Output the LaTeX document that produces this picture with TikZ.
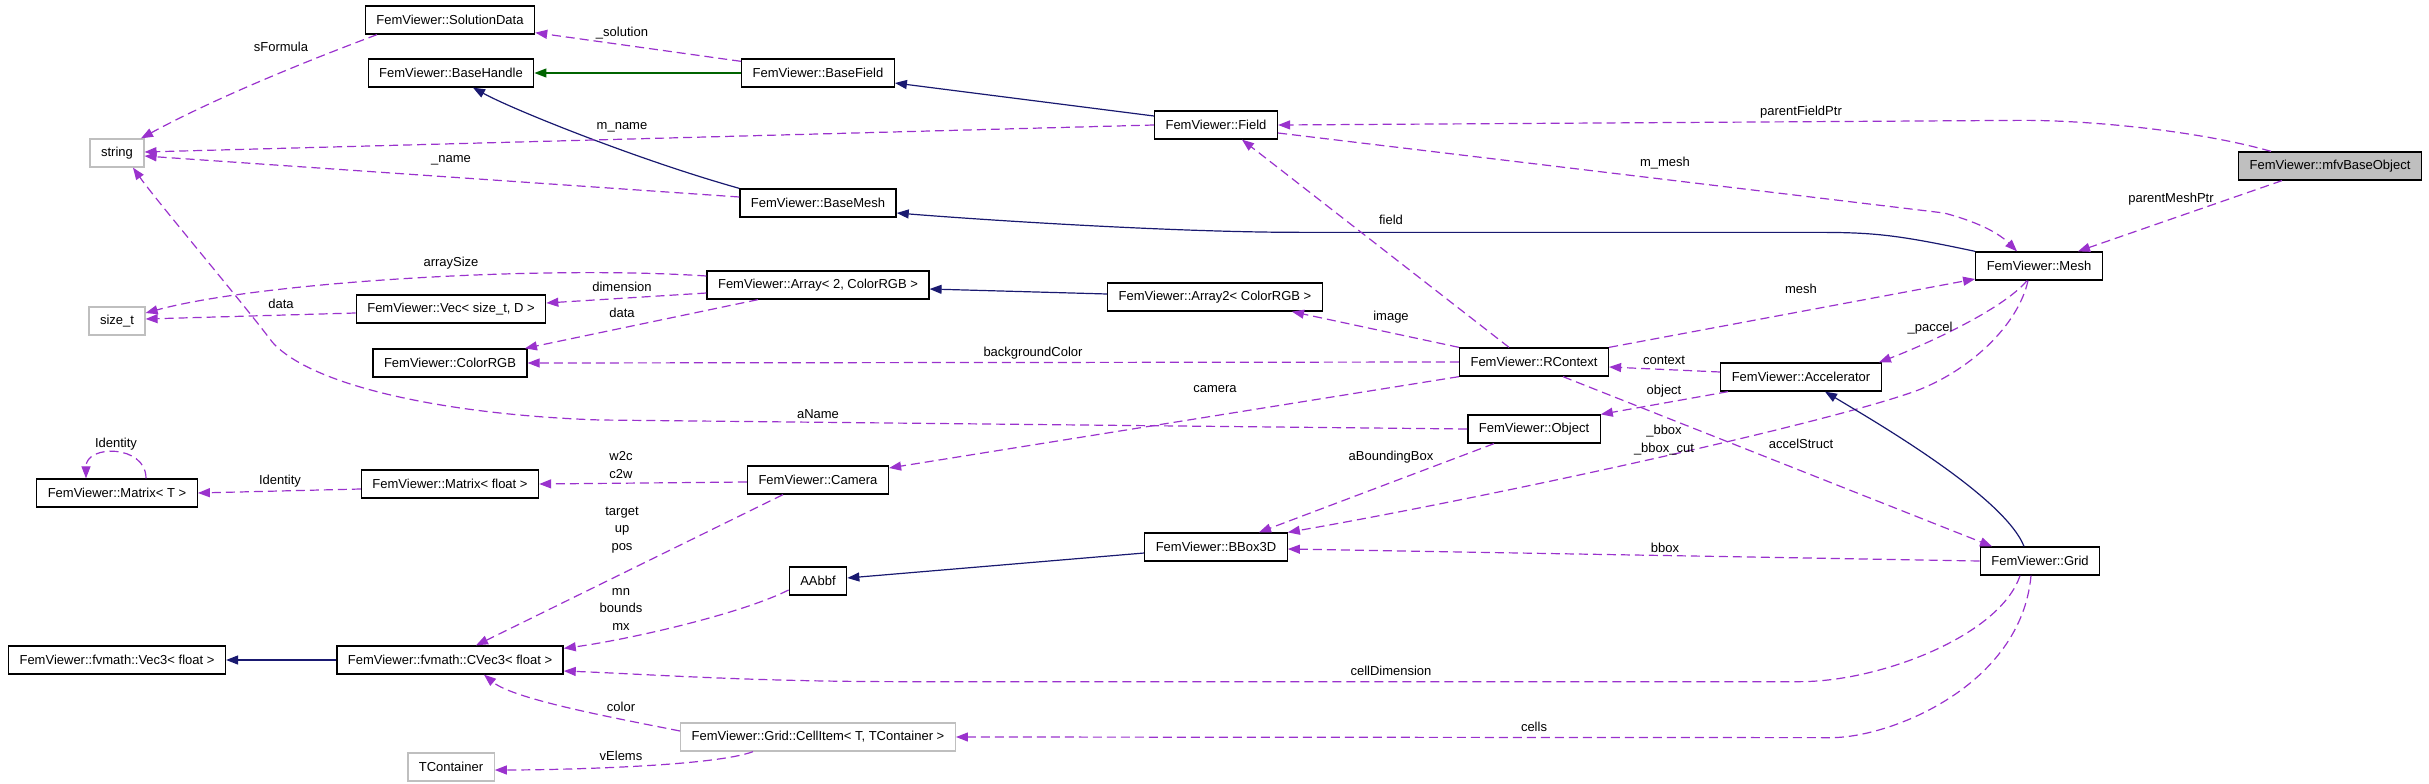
\documentclass[tikz,border=0pt]{standalone}
\usepackage{fontspec}
\setmainfont{Liberation Sans}
\usetikzlibrary{arrows.meta}
\definecolor{edgeviolet}{HTML}{9A32CD}
\definecolor{inhblue}{HTML}{191970}
\definecolor{inhgreen}{HTML}{006400}
\definecolor{greyext}{HTML}{BFBFBF}

\begin{document}
\begin{tikzpicture}[x=1pt,y=-1pt,
  every node/.style={font=\fontsize{13pt}{17.5pt}\selectfont},
  cls/.style={draw=black,line width=1.3pt,inner xsep=11pt,inner ysep=0pt,minimum height=28pt},
  ext/.style={cls,draw=greyext},
  root/.style={cls,fill=greyext},
  lbl/.style={inner sep=0pt,align=center},
  member/.style={draw=edgeviolet,line width=1.2pt,dash pattern=on 9pt off 5pt,
    -{Triangle[length=12pt,width=9pt]}},
  inherit/.style={draw=inhblue,line width=1.2pt,-{Triangle[length=12pt,width=9pt]}},
  protinherit/.style={inherit,draw=inhgreen}]
\useasboundingbox (0,0) rectangle (2429,784);

\node[cls] (sd) at (450,20) {FemViewer::SolutionData};
\node[cls] (bh) at (451,73) {FemViewer::BaseHandle};
\node[cls] (bf) at (818,73) {FemViewer::BaseField};
\node[ext] (str) at (117,153) {string};
\node[cls] (bm) at (818,203) {FemViewer::BaseMesh};
\node[cls] (arr) at (818,285) {FemViewer::Array< 2, ColorRGB >};
\node[ext] (szt) at (117,321) {size\_t};
\node[cls] (vsz) at (451,309) {FemViewer::Vec< size\_t, D >};
\node[cls] (rgb) at (450,363) {FemViewer::ColorRGB};
\node[cls] (fld) at (1216,125) {FemViewer::Field};
\node[cls] (arr2) at (1215,297) {FemViewer::Array2< ColorRGB >};
\node[cls] (rc) at (1534,362) {FemViewer::RContext};
\node[root] (mfv) at (2330,166) {FemViewer::mfvBaseObject};
\node[cls] (mesh) at (2039,266) {FemViewer::Mesh};
\node[cls] (acc) at (1801,377) {FemViewer::Accelerator};
\node[cls] (mt) at (117,493) {FemViewer::Matrix< T >};
\node[cls] (mf) at (450,484) {FemViewer::Matrix< float >};
\node[cls] (cam) at (818,480) {FemViewer::Camera};
\node[cls] (aab) at (818,581) {AAbbf};
\node[cls] (v3) at (117,660) {FemViewer::fvmath::Vec3< float >};
\node[cls] (cv3) at (450,660) {FemViewer::fvmath::CVec3< float >};
\node[ext] (cell) at (818,737) {FemViewer::Grid::CellItem< T, TContainer >};
\node[ext] (tc) at (451,767) {TContainer};
\node[cls] (obj) at (1534,429) {FemViewer::Object};
\node[cls] (bb) at (1216,547) {FemViewer::BBox3D};
\node[cls] (grid) at (2040,561) {FemViewer::Grid};

\draw[member] ([xshift=-73pt]sd.south) .. controls +(-80,30) and +(70,-38) .. ([xshift=24pt]str.north);
\draw[member] ([yshift=-3pt]bf.north west) -- ([yshift=2pt]sd.south east);
\draw[protinherit] (bf.west) -- (bh.east);
\draw[inherit] (bm.north west) .. controls +(-100,-28) and +(40,22) .. ([xshift=22pt]bh.south);
\draw[member] (fld.west) -- ([yshift=1pt]str.east);
\draw[member] ([yshift=6pt]bm.west) -- ([yshift=-3pt]str.east);
\draw[inherit] ([yshift=9pt]fld.west) -- ([yshift=-10pt]bf.east);
\draw[member] ([xshift=-59pt]mfv.north) .. controls +(-70,-20) and +(70,0) .. ++(-248,-31) -- (fld.east);
\draw[member] ([yshift=-8pt]fld.east) -- ++(666,80) .. controls +(30,8) and +(-20,-20) .. ([xshift=-22pt]mesh.north);
\draw[member] ([xshift=-48pt]mfv.south) -- ([xshift=39pt]mesh.north);
\draw[inherit] (mesh.north west) .. controls +(-80,-17) and +(60,0) .. ++(-162,-19) -- ++(-513,0)
  .. controls +(-120,0) and +(100,8) .. ([yshift=-10pt]bm.east);
\draw[member] ([xshift=-25pt]rc.north) -- ([xshift=26pt]fld.south);
\draw[member] (rc.north east) -- ([yshift=-13pt]mesh.west);
\draw[member] ([xshift=-12pt]mesh.south) .. controls +(-25,30) and +(40,-15) .. ([xshift=-3pt]acc.north east);
\draw[member] ([xshift=-11pt]mesh.south) .. controls +(-10,45) and +(55,-20) .. ++(-114,111)
  .. controls +(-100,35) and +(200,-35) .. (bb.north east);
\draw[member] ([yshift=5pt]acc.west) -- ([yshift=-5pt]rc.east);
\draw[member] ([xshift=-73pt]acc.south) -- (obj.north east);
\draw[member] ([xshift=29pt]rc.south) -- ([xshift=-48pt]grid.north);
\draw[inherit] ([xshift=-16pt]grid.north) .. controls +(-20,-50) and +(50,30) .. ([xshift=24pt]acc.south);
\draw[member] (grid.west) -- ([yshift=-2pt]bb.east);
\draw[member] ([xshift=-40pt]obj.south) -- ([xshift=43pt]bb.north);
\draw[member] (obj.west) -- ++(-867,-9) .. controls +(-150,-5) and +(40,45) .. ++(-328,-78)
  .. controls +(-30,-40) and +(25,35) .. ([xshift=16pt]str.south);
\draw[member] (rc.south west) -- ([yshift=12pt]cam.east);
\draw[member] (rc.west) -- (rgb.east);
\draw[member] (rc.north west) -- ([xshift=77pt]arr2.south);
\draw[inherit] ([yshift=3pt]arr2.west) -- ([yshift=-4pt]arr.east);
\draw[member] ([yshift=9pt]arr.west) .. controls +(-165,-11) and +(114,-31) .. ([yshift=8pt]szt.east);
\draw[member] ([yshift=-8pt]arr.west) -- ([yshift=6pt]vsz.east);
\draw[member] ([xshift=-60pt]arr.south) -- ([xshift=75pt]rgb.north);
\draw[member] ([yshift=-4pt]vsz.west) -- ([yshift=2pt]szt.east);
\draw[member] ([yshift=-2pt]cam.west) -- (mf.east);
\draw[member] ([yshift=-5pt]mf.west) -- (mt.east);
\draw[member] ([xshift=29pt]mt.north) .. controls +(0,-34) and +(0,-34) .. ([xshift=-31pt]mt.north);
\draw[member] ([xshift=-35pt]cam.south) -- ([xshift=26pt]cv3.north);
\draw[member] ([yshift=-9pt]aab.west) .. controls +(-50,25) and +(60,-8) .. ([yshift=-3pt]cv3.north east);
\draw[inherit] ([yshift=-6pt]bb.west) -- ([yshift=3pt]aab.east);
\draw[inherit] (cv3.west) -- (v3.east);
\draw[member] ([xshift=-20pt]grid.south) .. controls +(-20,60) and +(80,0) .. ++(-220,106) -- ++(-900,0)
  .. controls +(-150,0) and +(80,3) .. ([yshift=-11pt]cv3.east);
\draw[member] ([yshift=6pt]cell.west) .. controls +(-60,-12) and +(30,25) .. ([xshift=34pt]cv3.south);
\draw[member] ([xshift=-65pt]cell.south) .. controls +(-40,15) and +(60,0) .. ([yshift=-3pt]tc.east);
\draw[member] ([xshift=-9pt]grid.south) .. controls +(-10,110) and +(60,0) .. ++(-200,162) -- (cell.east);

\node[lbl] (lSformula) at (281,47) {sFormula};
\node[lbl] (lSolution) at (622,33) {\_solution};
\node[lbl] (lMname) at (622,127) {m\_name};
\node[lbl] (lName) at (451,160) {\_name};
\node[lbl] (lParentField) at (1801,112) {parentFieldPtr};
\node[lbl] (lMmesh) at (1665,163) {m\_mesh};
\node[lbl] (lParentMesh) at (2171,199) {parentMeshPtr};
\node[lbl] (lField) at (1391,220) {field};
\node[lbl] (lMesh) at (1801,289) {mesh};
\node[lbl] (lPaccel) at (1930,328) {\_paccel};
\node[lbl] (lBboxes) at (1664,440) {\_bbox\\\_bbox\_cut};
\node[lbl] (lContext) at (1664,360) {context};
\node[lbl] (lObject) at (1664,391) {object};
\node[lbl] (lAccel) at (1801,444) {accelStruct};
\node[lbl] (lBbox) at (1665,548) {bbox};
\node[lbl] (lABox) at (1391,457) {aBoundingBox};
\node[lbl] (lAName) at (818,414) {aName};
\node[lbl] (lCamera) at (1215,389) {camera};
\node[lbl] (lBgColor) at (1033,353) {backgroundColor};
\node[lbl] (lImage) at (1391,317) {image};
\node[lbl] (lArraySize) at (451,263) {arraySize};
\node[lbl] (lDimension) at (622,287) {dimension};
\node[lbl] (lData) at (622,313) {data};
\node[lbl] (lVecData) at (281,304) {data};
\node[lbl] (lW2c) at (621,465) {w2c\\c2w};
\node[lbl] (lIdentity) at (280,481) {Identity};
\node[lbl] (lSelf) at (116,444) {Identity};
\node[lbl] (lTarget) at (622,530) {target\\up\\pos};
\node[lbl] (lMn) at (621,609) {mn\\bounds\\mx};
\node[lbl] (lCellDim) at (1391,671) {cellDimension};
\node[lbl] (lColor) at (621,707) {color};
\node[lbl] (lVElems) at (621,756) {vElems};
\node[lbl] (lCells) at (1534,727) {cells};
\end{tikzpicture}
\end{document}
